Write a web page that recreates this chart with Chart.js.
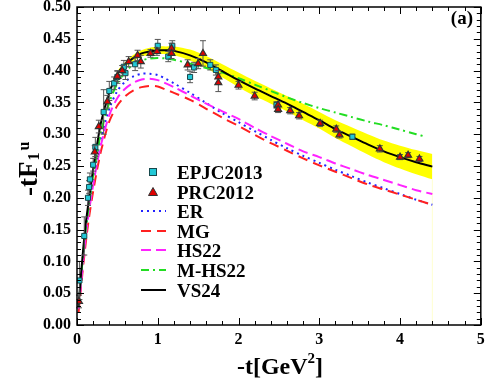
<!DOCTYPE html>
<html>
<head>
<meta charset="utf-8">
<script src="https://cdn.jsdelivr.net/npm/chart.js@4.4.0/dist/chart.umd.min.js"></script>
<style>
  html, body { margin: 0; padding: 0; background: #fff; }
</style>
</head>
<body>
<canvas id="myChart" width="486" height="380"></canvas>
<script>
// values: x = -t [GeV^2], y = -t F1^u
const tGrid = [0.02, 0.05, 0.1, 0.15, 0.2, 0.25, 0.3, 0.4, 0.5, 0.6, 0.7, 0.8, 0.9, 1.0, 1.1, 1.2,
               1.4, 1.6, 1.8, 2.0, 2.2, 2.4, 2.6, 2.8, 3.0, 3.2, 3.4, 3.6, 3.8, 4.0, 4.2, 4.4];
const vs24 = [0.03, 0.08, 0.15, 0.20, 0.245, 0.285, 0.32, 0.365, 0.395, 0.41, 0.42, 0.427, 0.430, 0.432, 0.432, 0.431,
              0.424, 0.413, 0.399, 0.385, 0.372, 0.360, 0.348, 0.335, 0.322, 0.308, 0.296, 0.284, 0.273, 0.264, 0.256, 0.249];
const vs24Upper = [0.032, 0.082, 0.153, 0.203, 0.248, 0.288, 0.323, 0.368, 0.399, 0.414, 0.425, 0.432, 0.436, 0.438, 0.438, 0.438,
                   0.433, 0.423, 0.410, 0.397, 0.384, 0.372, 0.360, 0.348, 0.335, 0.322, 0.311, 0.300, 0.290, 0.282, 0.275, 0.269];
const vs24Lower = [0.028, 0.078, 0.147, 0.197, 0.242, 0.282, 0.317, 0.362, 0.391, 0.406, 0.415, 0.422, 0.424, 0.426, 0.426, 0.424,
                   0.416, 0.404, 0.389, 0.374, 0.360, 0.348, 0.336, 0.322, 0.309, 0.294, 0.281, 0.268, 0.256, 0.246, 0.237, 0.229];
const er = [0.03, 0.075, 0.14, 0.19, 0.23, 0.265, 0.295, 0.34, 0.368, 0.383, 0.391, 0.395, 0.395, 0.393, 0.387, 0.38,
            0.365, 0.349, 0.333, 0.319, 0.305, 0.291, 0.278, 0.266, 0.255, 0.244, 0.234, 0.224, 0.215, 0.206, 0.197, 0.189];
const mg = [0.02, 0.06, 0.12, 0.17, 0.21, 0.245, 0.275, 0.32, 0.345, 0.36, 0.369, 0.374, 0.376, 0.375, 0.370, 0.365,
            0.354, 0.340, 0.326, 0.313, 0.299, 0.286, 0.274, 0.262, 0.251, 0.241, 0.231, 0.221, 0.213, 0.205, 0.197, 0.189];
const hs22 = [0.025, 0.065, 0.13, 0.18, 0.22, 0.255, 0.285, 0.33, 0.357, 0.372, 0.381, 0.386, 0.387, 0.385, 0.380, 0.374,
              0.361, 0.348, 0.336, 0.324, 0.310, 0.297, 0.285, 0.273, 0.264, 0.254, 0.245, 0.236, 0.228, 0.220, 0.212, 0.206];
const tGridM = [0.02, 0.05, 0.1, 0.15, 0.2, 0.25, 0.3, 0.4, 0.5, 0.6, 0.7, 0.8, 0.9, 1.0, 1.1, 1.2,
                1.4, 1.6, 1.8, 2.0, 2.2, 2.4, 2.6, 2.8, 3.0, 3.2, 3.4, 3.6, 3.8, 4.0, 4.2, 4.32];
const mhs22 = [0.03, 0.075, 0.14, 0.19, 0.235, 0.27, 0.305, 0.35, 0.38, 0.398, 0.41, 0.416, 0.419, 0.42, 0.419, 0.417,
               0.411, 0.404, 0.397, 0.388, 0.378, 0.368, 0.358, 0.349, 0.341, 0.334, 0.327, 0.320, 0.314, 0.307, 0.300, 0.296];

// EPJC2013 data
const epjcT = [0.03, 0.09, 0.136, 0.15, 0.16, 0.20, 0.227, 0.33, 0.40, 0.46, 0.50, 0.58, 0.60, 0.72,
               1.0, 1.13, 1.18, 1.40, 1.45, 1.65, 1.72, 2.47, 3.41];
const epjcF = [0.07, 0.14, 0.20, 0.217, 0.229, 0.252, 0.28, 0.335, 0.368, 0.38, 0.39, 0.406, 0.396, 0.41,
               0.439, 0.422, 0.439, 0.39, 0.405, 0.409, 0.401, 0.346, 0.296];
const epjcErr = [0.03, 0.03, 0.012, 0.01, 0.01, 0.01, 0.015, 0.035, 0.015, 0.01, 0.01, 0.01, 0.01, 0.01,
                 0.01, 0.008, 0.008, 0.009, 0.008, 0.008, 0.008, 0.005, 0.004];

// PRC2012 data
const prcT = [0.025, 0.22, 0.27, 0.375, 0.5, 0.56, 0.64, 0.75, 0.79, 0.91, 0.99, 1.17, 1.17, 1.37, 1.50, 1.56,
              1.75, 1.75, 2.0, 2.2, 2.49, 2.49, 2.64, 2.75, 3.01, 3.21, 3.25, 3.75, 4.0, 4.1, 4.24];
const prcF = [0.037, 0.272, 0.312, 0.351, 0.391, 0.40, 0.414, 0.424, 0.414, 0.427, 0.43, 0.435, 0.427, 0.409, 0.411, 0.427,
              0.39, 0.381, 0.377, 0.36, 0.346, 0.339, 0.337, 0.329, 0.317, 0.308, 0.299, 0.277, 0.264, 0.267, 0.261];
const prcErr = [0.01, 0.01, 0.01, 0.01, 0.008, 0.008, 0.008, 0.008, 0.01, 0.006, 0.006, 0.008, 0.008, 0.008, 0.008, 0.02,
                0.01, 0.014, 0.006, 0.006, 0.005, 0.005, 0.005, 0.005, 0.005, 0.005, 0.005, 0.005, 0.004, 0.004, 0.004];

const xTicks = [0, 1, 2, 3, 4, 5];
const yTicks = [0, 0.05, 0.1, 0.15, 0.2, 0.25, 0.3, 0.35, 0.4, 0.45, 0.5];

const serif = '"Liberation Serif", "Times New Roman", serif';
const pts = (xs, ys) => xs.map((x, i) => ({ x: x, y: ys[i] }));

const curve = (label, xs, ys, color, dash, order) => ({
    label: label, data: pts(xs, ys), showLine: true, pointRadius: 0,
    borderColor: color, backgroundColor: color, borderWidth: 2, borderDash: dash,
    fill: false, tension: 0.3, order: order
});

const datasets = [
    { label: 'EPJC2013', data: pts(epjcT, epjcF), errs: epjcErr, pointStyle: 'rect', pointRadius: 3.6,
      backgroundColor: '#22c8d6', borderColor: '#17484c', borderWidth: 1, showLine: false, order: 1, legend: true },
    { label: 'PRC2012', data: pts(prcT, prcF), errs: prcErr, pointStyle: 'triangle', pointRadius: 4,
      backgroundColor: '#e00000', borderColor: '#333333', borderWidth: 1.2, showLine: false, order: 0, legend: true },
    Object.assign(curve('ER', tGrid, er, '#2222ff', [2, 4], 6), { legend: true }),
    Object.assign(curve('MG', tGrid, mg, '#ff2020', [10, 6], 5), { legend: true }),
    Object.assign(curve('HS22', tGrid, hs22, '#ff22ff', [10, 5], 4), { legend: true }),
    Object.assign(curve('M-HS22', tGridM, mhs22, '#22dd22', [8, 4, 2, 4], 3), { legend: true }),
    Object.assign(curve('VS24', tGrid, vs24, '#000000', [], 2), { legend: true }),
    { label: 'band-up', data: pts(tGrid, vs24Upper), showLine: true, pointRadius: 0, borderWidth: 0,
      borderColor: 'rgba(0,0,0,0)', backgroundColor: '#ffff00', fill: '+1', tension: 0.3, order: 10 },
    { label: 'band-low', data: pts(tGrid, vs24Lower), showLine: true, pointRadius: 0, borderWidth: 0,
      borderColor: 'rgba(0,0,0,0)', fill: false, tension: 0.3, order: 11 },
    { label: 'band-edge', data: [{ x: 4.4, y: 0 }, { x: 4.4, y: 0.229 }], showLine: true, pointRadius: 0,
      borderWidth: 1, borderColor: 'rgba(255,255,120,0.35)', fill: false, order: 12 }
];

// frame, inside ticks, error bars, titles and legend
const decor = {
    id: 'decor',
    beforeDatasetDraw(chart, args) {
        const ds = chart.data.datasets[args.index];
        if (!ds.errs) return;
        const { ctx, scales: { x, y } } = chart;
        ctx.save();
        ctx.strokeStyle = '#555';
        ctx.lineWidth = 1;
        ds.data.forEach((p, i) => {
            const px = x.getPixelForValue(p.x);
            const y1 = y.getPixelForValue(p.y + ds.errs[i]);
            const y2 = y.getPixelForValue(p.y - ds.errs[i]);
            ctx.beginPath();
            ctx.moveTo(px, y1); ctx.lineTo(px, y2);
            ctx.moveTo(px - 3, y1); ctx.lineTo(px + 3, y1);
            ctx.moveTo(px - 3, y2); ctx.lineTo(px + 3, y2);
            ctx.stroke();
        });
        ctx.restore();
    },
    afterDraw(chart) {
        const { ctx, chartArea: a, scales: { x, y } } = chart;
        ctx.save();
        ctx.strokeStyle = '#000';
        ctx.lineWidth = 1.5;
        ctx.strokeRect(a.left, a.top, a.right - a.left, a.bottom - a.top);
        ctx.lineWidth = 1;
        ctx.beginPath();
        for (let k = 0; k <= 25; k++) {
            const px = Math.round(x.getPixelForValue(k * 0.2)) + 0.5;
            const len = k % 5 === 0 ? 7 : 4;
            ctx.moveTo(px, a.bottom); ctx.lineTo(px, a.bottom - len);
            ctx.moveTo(px, a.top); ctx.lineTo(px, a.top + len);
        }
        for (let k = 0; k <= 50; k++) {
            const py = Math.round(y.getPixelForValue(k * 0.01)) + 0.5;
            const len = k % 5 === 0 ? 7 : 4;
            ctx.moveTo(a.left, py); ctx.lineTo(a.left + len, py);
            ctx.moveTo(a.right, py); ctx.lineTo(a.right - len, py);
        }
        ctx.stroke();

        ctx.fillStyle = '#000';
        ctx.textBaseline = 'alphabetic';

        // x title: -t[GeV^2]
        ctx.font = 'bold 24px ' + serif;
        const p1 = '-t[GeV', p3 = ']';
        const w1 = ctx.measureText(p1).width, w3 = ctx.measureText(p3).width;
        ctx.font = 'bold 15px ' + serif;
        const w2 = ctx.measureText('2').width;
        let sx = 280 - (w1 + w2 + w3) / 2;
        ctx.font = 'bold 24px ' + serif;
        ctx.fillText(p1, sx, 374);
        ctx.font = 'bold 15px ' + serif;
        ctx.fillText('2', sx + w1, 363);
        ctx.font = 'bold 24px ' + serif;
        ctx.fillText(p3, sx + w1 + w2, 374);

        // y title: -tF_1^u
        ctx.save();
        ctx.translate(37, 196);
        ctx.rotate(-Math.PI / 2);
        ctx.font = 'bold 27px ' + serif;
        ctx.fillText('-tF', 0, 0);
        const wf = ctx.measureText('-tF').width;
        ctx.font = 'bold 16px ' + serif;
        ctx.fillText('1', wf + 1, 2);
        ctx.fillText('u', wf + 11, -8);
        ctx.restore();

        // panel tag
        ctx.font = 'bold 19px ' + serif;
        ctx.textAlign = 'right';
        ctx.fillText('(a)', 473, 24);
        ctx.textAlign = 'left';

        // legend
        const rowY = [172, 192, 211, 231, 250, 270, 290];
        const items = chart.data.datasets.filter(d => d.legend);
        ctx.font = 'bold 19px ' + serif;
        items.forEach((d, i) => {
            const cy = rowY[i];
            if (d.pointStyle === 'rect') {
                ctx.fillStyle = d.backgroundColor; ctx.strokeStyle = d.borderColor; ctx.lineWidth = 1;
                ctx.fillRect(149.5, cy - 3.5, 7, 7); ctx.strokeRect(149.5, cy - 3.5, 7, 7);
            } else if (d.pointStyle === 'triangle') {
                ctx.fillStyle = d.backgroundColor; ctx.strokeStyle = d.borderColor; ctx.lineWidth = 1;
                ctx.beginPath(); ctx.moveTo(153, cy - 4.5); ctx.lineTo(157.5, cy + 3.5); ctx.lineTo(148.5, cy + 3.5);
                ctx.closePath(); ctx.fill(); ctx.stroke();
            } else {
                ctx.strokeStyle = d.borderColor; ctx.lineWidth = 2; ctx.setLineDash(d.borderDash);
                ctx.beginPath(); ctx.moveTo(141, cy); ctx.lineTo(166, cy); ctx.stroke();
                ctx.setLineDash([]);
            }
            ctx.fillStyle = '#000';
            ctx.fillText(d.label, 177, cy + 6.5);
        });
        ctx.restore();
    }
};

const ctx = document.getElementById('myChart').getContext('2d');
new Chart(ctx, {
    type: 'scatter',
    data: { datasets: datasets },
    options: {
        responsive: false,
        animation: false,
        devicePixelRatio: 1,
        layout: { padding: { left: 0, right: 5, top: 7, bottom: 0 } },
        plugins: { legend: { display: false }, tooltip: { enabled: false } },
        scales: {
            x: {
                type: 'linear', min: 0, max: 5,
                afterFit: s => { s.height = 55; s.paddingLeft = 0; s.paddingRight = 0; },
                afterBuildTicks: s => { s.ticks = xTicks.map(v => ({ value: v })); },
                grid: { display: false, drawTicks: false },
                border: { display: false },
                ticks: { padding: 5, color: '#000', font: { family: serif, weight: 'bold', size: 16 },
                         callback: v => String(v) }
            },
            y: {
                type: 'linear', min: 0, max: 0.5,
                afterFit: s => { s.width = 77; s.paddingTop = 0; s.paddingBottom = 0; },
                afterBuildTicks: s => { s.ticks = yTicks.map(v => ({ value: v })); },
                grid: { display: false, drawTicks: false },
                border: { display: false },
                ticks: { padding: 6, color: '#000', font: { family: serif, weight: 'bold', size: 16 },
                         callback: v => v.toFixed(2) }
            }
        }
    },
    plugins: [decor]
});
</script>
</body>
</html>
